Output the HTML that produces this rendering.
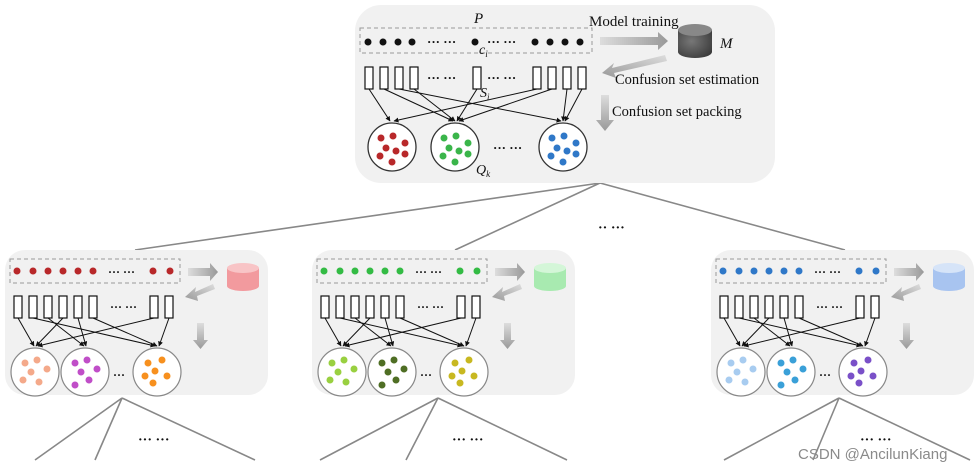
<!DOCTYPE html>
<html><head><meta charset="utf-8"><style>
html,body{margin:0;padding:0;background:#fff;width:979px;height:468px;overflow:hidden}
svg{display:block}
text{font-family:"Liberation Serif",serif;fill:#111}
</style></head><body>
<svg width="979" height="468" viewBox="0 0 979 468" xmlns="http://www.w3.org/2000/svg">
<defs>
<linearGradient id="ga" x1="0" y1="0" x2="1" y2="0"><stop offset="0" stop-color="#ddd"/><stop offset="1" stop-color="#999"/></linearGradient>
<linearGradient id="gd" x1="0" y1="0" x2="0" y2="1"><stop offset="0" stop-color="#ddd"/><stop offset="1" stop-color="#999"/></linearGradient>
<linearGradient id="gs" x1="1" y1="0" x2="0" y2="1"><stop offset="0" stop-color="#ddd"/><stop offset="1" stop-color="#999"/></linearGradient>
<marker id="ah" viewBox="0 0 10 10" refX="9" refY="5" markerWidth="5" markerHeight="5" orient="auto"><path d="M0,0 L10,5 L0,10 z" fill="#111"/></marker>
<radialGradient id="cylk" cx="0.4" cy="0.4" r="0.8"><stop offset="0" stop-color="#777"/><stop offset="1" stop-color="#333"/></radialGradient>
</defs>

<!-- tree lines -->
<g stroke="#888" stroke-width="1.6" fill="none">
<line x1="600" y1="183" x2="135" y2="250"/>
<line x1="600" y1="183" x2="455" y2="250"/>
<line x1="600" y1="183" x2="845" y2="250"/>
<line x1="122" y1="398" x2="35" y2="460"/>
<line x1="122" y1="398" x2="95" y2="460"/>
<line x1="122" y1="398" x2="255" y2="460"/>
<line x1="438" y1="398" x2="320" y2="460"/>
<line x1="438" y1="398" x2="406" y2="460"/>
<line x1="438" y1="398" x2="567" y2="460"/>
<line x1="839" y1="398" x2="724" y2="460"/>
<line x1="839" y1="398" x2="813" y2="460"/>
<line x1="839" y1="398" x2="970" y2="460"/>
</g>
<text x="598" y="232" font-size="14" font-weight="bold">·· ···</text>
<text x="138" y="444" font-size="14" font-weight="bold">··· ···</text>
<text x="452" y="444" font-size="14" font-weight="bold">··· ···</text>
<text x="860" y="444" font-size="14" font-weight="bold">··· ···</text>

<!-- TOP PANEL -->
<rect x="355" y="5" width="420" height="178" rx="26" fill="#f1f1f1"/>
<rect x="360" y="28" width="232" height="25" fill="none" stroke="#999" stroke-dasharray="4,3"/>
<g fill="#111">
<circle cx="368" cy="42" r="3.5"/><circle cx="383" cy="42" r="3.5"/><circle cx="398" cy="42" r="3.5"/><circle cx="412" cy="42" r="3.5"/>
<circle cx="475" cy="42" r="3.5"/>
<circle cx="535" cy="42" r="3.5"/><circle cx="550" cy="42" r="3.5"/><circle cx="565" cy="42" r="3.5"/><circle cx="580" cy="42" r="3.5"/>
</g>
<text x="427" y="46" font-size="13" font-weight="bold">··· ···</text>
<text x="487" y="46" font-size="13" font-weight="bold">··· ···</text>
<text x="474" y="23" font-size="15" font-style="italic">P</text>
<text x="479" y="54" font-size="14" font-style="italic">c<tspan font-size="9" dy="3">i</tspan></text>
<text x="589" y="26" font-size="15">Model training</text>
<polygon points="600,37 658,37 658,32 668,41 658,50 658,45 600,45" fill="url(#ga)"/>
<g>
<path d="M678,30 v22 a17,6 0 0 0 34,0 v-22 z" fill="url(#cylk)"/>
<ellipse cx="695" cy="30" rx="17" ry="6" fill="#888"/>
</g>
<text x="720" y="48" font-size="15" font-style="italic">M</text>
<polygon points="665,55 612,68 614,63 602,73 616,78 614,73 667,61" fill="url(#gs)"/>
<text x="615" y="84" font-size="14.5">Confusion set estimation</text>
<polygon points="601,95 609,95 609,120 614,120 605,131 596,120 601,120" fill="url(#gd)"/>
<text x="612" y="116" font-size="14.5">Confusion set packing</text>
<g fill="#fff" stroke="#111" stroke-width="1.2">
<rect x="365" y="67" width="8" height="22"/><rect x="380" y="67" width="8" height="22"/><rect x="395" y="67" width="8" height="22"/><rect x="410" y="67" width="8" height="22"/>
<rect x="473" y="67" width="8" height="22"/>
<rect x="533" y="67" width="8" height="22"/><rect x="548" y="67" width="8" height="22"/><rect x="563" y="67" width="8" height="22"/><rect x="578" y="67" width="8" height="22"/>
</g>
<text x="427" y="82" font-size="13" font-weight="bold">··· ···</text>
<text x="487" y="82" font-size="13" font-weight="bold">··· ···</text>
<text x="480" y="97" font-size="14" font-style="italic">S<tspan font-size="9" dy="3">i</tspan></text>
<g stroke="#111" stroke-width="1" marker-end="url(#ah)">
<line x1="369" y1="89" x2="390" y2="121"/>
<line x1="384" y1="89" x2="453" y2="121"/>
<line x1="399" y1="89" x2="561" y2="121"/>
<line x1="414" y1="89" x2="455" y2="121"/>
<line x1="477" y1="89" x2="457" y2="121"/>
<line x1="537" y1="89" x2="394" y2="121"/>
<line x1="552" y1="89" x2="459" y2="121"/>
<line x1="567" y1="89" x2="563" y2="121"/>
<line x1="582" y1="89" x2="565" y2="121"/>
</g>
<g fill="#fff" stroke="#333" stroke-width="1.3">
<circle cx="392" cy="147" r="24"/><circle cx="455" cy="147" r="24"/><circle cx="563" cy="147" r="24"/>
</g>
<g fill="#b8282a">
<circle cx="381" cy="138" r="3.5"/><circle cx="393" cy="136" r="3.5"/><circle cx="405" cy="143" r="3.5"/><circle cx="386" cy="148" r="3.5"/><circle cx="396" cy="151" r="3.5"/><circle cx="405" cy="154" r="3.5"/><circle cx="380" cy="156" r="3.5"/><circle cx="392" cy="162" r="3.5"/>
</g>
<g fill="#3ab54a">
<circle cx="444" cy="138" r="3.5"/><circle cx="456" cy="136" r="3.5"/><circle cx="468" cy="143" r="3.5"/><circle cx="449" cy="148" r="3.5"/><circle cx="459" cy="151" r="3.5"/><circle cx="468" cy="154" r="3.5"/><circle cx="443" cy="156" r="3.5"/><circle cx="455" cy="162" r="3.5"/>
</g>
<g fill="#2f78c8">
<circle cx="552" cy="138" r="3.5"/><circle cx="564" cy="136" r="3.5"/><circle cx="576" cy="143" r="3.5"/><circle cx="557" cy="148" r="3.5"/><circle cx="567" cy="151" r="3.5"/><circle cx="576" cy="154" r="3.5"/><circle cx="551" cy="156" r="3.5"/><circle cx="563" cy="162" r="3.5"/>
</g>
<text x="493" y="152" font-size="13" font-weight="bold">··· ···</text>
<text x="476" y="174" font-size="14" font-style="italic">Q<tspan font-size="9" dy="3">k</tspan></text>

<!-- child panel template -->
<defs>
<g id="child">
<rect x="0" y="0" width="263" height="145" rx="20" fill="#f1f1f1"/>
<rect x="5" y="9" width="170" height="24" fill="none" stroke="#999" stroke-dasharray="4,3"/>
<polygon points="183,18 205,18 205,13 213,22 205,31 205,26 183,26" fill="url(#ga)"/>
<polygon points="208,34 190,42 191,37 180,47 193,51 192,46 210,39" fill="url(#gs)"/>
<polygon points="192,73 199,73 199,90 203,90 195.5,99 188,90 192,90" fill="url(#gd)"/>
<g fill="#fff" stroke="#111" stroke-width="1.2">
<rect x="9" y="46" width="8" height="22"/><rect x="24" y="46" width="8" height="22"/><rect x="39" y="46" width="8" height="22"/><rect x="54" y="46" width="8" height="22"/><rect x="69" y="46" width="8" height="22"/><rect x="84" y="46" width="8" height="22"/>
<rect x="145" y="46" width="8" height="22"/><rect x="160" y="46" width="8" height="22"/>
</g>
<text x="103" y="26" font-size="12" font-weight="bold">··· ···</text>
<text x="105" y="61" font-size="12" font-weight="bold">··· ···</text>
<text x="108" y="129" font-size="12" font-weight="bold">···</text>
<g stroke="#111" stroke-width="1" marker-end="url(#ah)">
<line x1="13" y1="68" x2="29" y2="96"/>
<line x1="28" y1="68" x2="150" y2="96"/>
<line x1="43" y1="68" x2="79" y2="96"/>
<line x1="58" y1="68" x2="31" y2="96"/>
<line x1="73" y1="68" x2="81" y2="96"/>
<line x1="88" y1="68" x2="152" y2="96"/>
<line x1="149" y1="68" x2="33" y2="96"/>
<line x1="164" y1="68" x2="154" y2="96"/>
</g>
<g fill="#fff" stroke="#888" stroke-width="1.2">
<circle cx="30" cy="122" r="24"/><circle cx="80" cy="122" r="24"/><circle cx="152" cy="122" r="24"/>
</g>
</g>
</defs>

<!-- LEFT -->
<g transform="translate(5,250)">
<use href="#child"/>
<g fill="#b8282a"><circle cx="12" cy="21" r="3.5"/><circle cx="28" cy="21" r="3.5"/><circle cx="43" cy="21" r="3.5"/><circle cx="58" cy="21" r="3.5"/><circle cx="73" cy="21" r="3.5"/><circle cx="88" cy="21" r="3.5"/><circle cx="148" cy="21" r="3.5"/><circle cx="165" cy="21" r="3.5"/></g>
<path d="M222,18 v18 a16,5 0 0 0 32,0 v-18 z" fill="#f29a9e"/><ellipse cx="238" cy="18" rx="16" ry="5" fill="#f8c4c6"/>
<g fill="#f4a98a"><circle cx="20" cy="113" r="3.5"/><circle cx="32" cy="110" r="3.5"/><circle cx="42" cy="119" r="3.5"/><circle cx="26" cy="122" r="3.5"/><circle cx="18" cy="130" r="3.5"/><circle cx="34" cy="132" r="3.5"/></g>
<g fill="#c04ec8"><circle cx="70" cy="113" r="3.5"/><circle cx="82" cy="110" r="3.5"/><circle cx="92" cy="119" r="3.5"/><circle cx="76" cy="122" r="3.5"/><circle cx="70" cy="135" r="3.5"/><circle cx="84" cy="130" r="3.5"/></g>
<g fill="#f7901e"><circle cx="143" cy="113" r="3.5"/><circle cx="157" cy="110" r="3.5"/><circle cx="150" cy="121" r="3.5"/><circle cx="140" cy="126" r="3.5"/><circle cx="162" cy="126" r="3.5"/><circle cx="148" cy="133" r="3.5"/></g>
</g>

<!-- MIDDLE -->
<g transform="translate(312,250)">
<use href="#child"/>
<g fill="#33bb44"><circle cx="12" cy="21" r="3.5"/><circle cx="28" cy="21" r="3.5"/><circle cx="43" cy="21" r="3.5"/><circle cx="58" cy="21" r="3.5"/><circle cx="73" cy="21" r="3.5"/><circle cx="88" cy="21" r="3.5"/><circle cx="148" cy="21" r="3.5"/><circle cx="165" cy="21" r="3.5"/></g>
<path d="M222,18 v18 a16,5 0 0 0 32,0 v-18 z" fill="#a8eab0"/><ellipse cx="238" cy="18" rx="16" ry="5" fill="#d4f6d8"/>
<g fill="#99d040"><circle cx="20" cy="113" r="3.5"/><circle cx="32" cy="110" r="3.5"/><circle cx="42" cy="119" r="3.5"/><circle cx="26" cy="122" r="3.5"/><circle cx="18" cy="130" r="3.5"/><circle cx="34" cy="132" r="3.5"/></g>
<g fill="#4f6e24"><circle cx="70" cy="113" r="3.5"/><circle cx="82" cy="110" r="3.5"/><circle cx="92" cy="119" r="3.5"/><circle cx="76" cy="122" r="3.5"/><circle cx="70" cy="135" r="3.5"/><circle cx="84" cy="130" r="3.5"/></g>
<g fill="#c8b820"><circle cx="143" cy="113" r="3.5"/><circle cx="157" cy="110" r="3.5"/><circle cx="150" cy="121" r="3.5"/><circle cx="140" cy="126" r="3.5"/><circle cx="162" cy="126" r="3.5"/><circle cx="148" cy="133" r="3.5"/></g>
</g>

<!-- RIGHT -->
<g transform="translate(711,250)">
<use href="#child"/>
<g fill="#2f78c8"><circle cx="12" cy="21" r="3.5"/><circle cx="28" cy="21" r="3.5"/><circle cx="43" cy="21" r="3.5"/><circle cx="58" cy="21" r="3.5"/><circle cx="73" cy="21" r="3.5"/><circle cx="88" cy="21" r="3.5"/><circle cx="148" cy="21" r="3.5"/><circle cx="165" cy="21" r="3.5"/></g>
<path d="M222,18 v18 a16,5 0 0 0 32,0 v-18 z" fill="#a8c4f0"/><ellipse cx="238" cy="18" rx="16" ry="5" fill="#d6e4f8"/>
<g fill="#a8ccf0"><circle cx="20" cy="113" r="3.5"/><circle cx="32" cy="110" r="3.5"/><circle cx="42" cy="119" r="3.5"/><circle cx="26" cy="122" r="3.5"/><circle cx="18" cy="130" r="3.5"/><circle cx="34" cy="132" r="3.5"/></g>
<g fill="#3aa0d8"><circle cx="70" cy="113" r="3.5"/><circle cx="82" cy="110" r="3.5"/><circle cx="92" cy="119" r="3.5"/><circle cx="76" cy="122" r="3.5"/><circle cx="70" cy="135" r="3.5"/><circle cx="84" cy="130" r="3.5"/></g>
<g fill="#7a50c8"><circle cx="143" cy="113" r="3.5"/><circle cx="157" cy="110" r="3.5"/><circle cx="150" cy="121" r="3.5"/><circle cx="140" cy="126" r="3.5"/><circle cx="162" cy="126" r="3.5"/><circle cx="148" cy="133" r="3.5"/></g>
</g>

<text x="798" y="459" font-size="15" style="font-family:'Liberation Sans',sans-serif;fill:#8a8a8a">CSDN @AncilunKiang</text>
</svg>
</body></html>
